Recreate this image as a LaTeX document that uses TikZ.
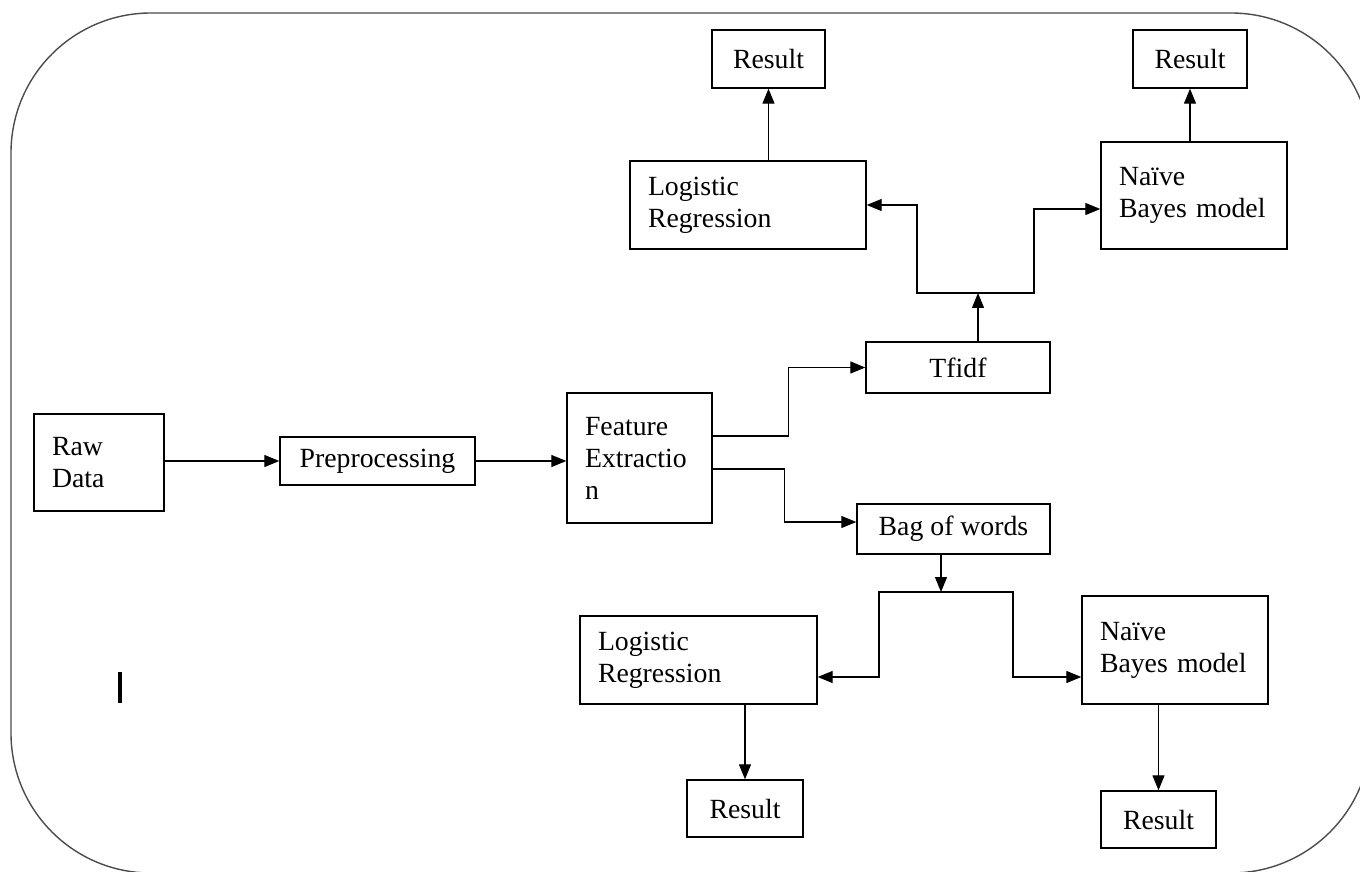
\documentclass[tikz,border=0pt]{standalone}
\usepackage{fontspec}
\setmainfont{Liberation Serif}
\usepackage{tikz}
\usetikzlibrary{arrows.meta,positioning,calc}
\tikzset{
  box/.style={rectangle, draw=black, line width=0.8pt, inner sep=0pt, align=center, font=\fontsize{15.8}{18.2}\selectfont},
  leftbox/.style={box, align=left, inner xsep=0.36cm},
  flow/.style={line width=0.7pt, -{Triangle[length=0.3cm, width=0.24cm]}},
  frame/.style={draw=black!70, line width=0.8pt, rounded corners=2.8cm},
}

\begin{document}
\begin{tikzpicture}[x=0.02cm, y=-0.02cm]
  \useasboundingbox (0,0) rectangle (1360,872);
  \clip (0,0) rectangle (1360,872);
  % outer frame
  \draw[frame] (11,13) rectangle (1371,873);
  % main chain
  \node[leftbox, text width=1.88cm, minimum height=1.94cm] (raw) at (99,462.5) {Raw\\Data};
  \node[box, minimum width=3.9cm, minimum height=0.96cm] (pre) at (377.5,461) {Preprocessing};
  \node[leftbox, text width=2.18cm, minimum height=2.6cm] (feat) at (639.5,458) {Feature\\Extractio\\n};
  \node[box, minimum width=3.68cm, minimum height=1.02cm] (tfidf) at (958,367.5) {Tfidf};
  \node[box, minimum width=3.86cm, minimum height=1.0cm] (bag) at (953.5,529) {Bag of words};
  % models (tfidf branch)
  \node[leftbox, text width=4.0cm, minimum height=1.76cm] (lr1) at (748,205) {Logistic\\Regression};
  \node[leftbox, text width=3.0cm, minimum height=2.14cm] (nb1) at (1194,195.5) {Naïve\\Bayes model};
  \node[box, minimum width=2.26cm, minimum height=1.16cm] (res1) at (768.5,59) {Result};
  \node[box, minimum width=2.28cm, minimum height=1.16cm] (res2) at (1190,59) {Result};
  % models (bag of words branch)
  \node[leftbox, text width=4.02cm, minimum height=1.76cm] (lr2) at (698.5,660) {Logistic\\Regression};
  \node[leftbox, text width=3.0cm, minimum height=2.16cm] (nb2) at (1175,650) {Naïve\\Bayes model};
  \node[box, minimum width=2.32cm, minimum height=1.14cm] (res3) at (745,808.5) {Result};
  \node[box, minimum width=2.3cm, minimum height=1.14cm] (res4) at (1158.5,819.5) {Result};
  % junctions
  \coordinate (tj) at (978,293);
  \coordinate (bj) at (941,592);
  % links
  \draw[flow] (raw.east |- pre.west) -- (pre.west);
  \draw[flow] (pre.east) -- (feat.west |- pre.east);
  \draw[flow] ([yshift=0.44cm]feat.east) -- ++(76,0) |- (tfidf.west);
  \draw[flow] ([yshift=-0.22cm]feat.east) -- ++(72,0) |- ([yshift=0.14cm]bag.west);
  \draw[flow] (tj |- tfidf.north) -- (tj);
  \draw[flow] (tj) -- ++(-61,0) |- (lr1.east);
  \draw[flow] (tj) -- ++(56,0) |- ([yshift=-0.27cm]nb1.west);
  \draw[flow] (bj |- bag.south) -- (bj);
  \draw[flow] (bj) -- ++(-62,0) |- ([yshift=-0.34cm]lr2.east);
  \draw[flow] (bj) -- ++(72,0) |- ([yshift=-0.54cm]nb2.west);
  \draw[flow] (res1.south |- lr1.north) -- (res1.south);
  \draw[flow] (res2.south |- nb1.north) -- (res2.south);
  \draw[flow] (res3.north |- lr2.south) -- (res3.north);
  \draw[flow] (res4.north |- nb2.south) -- (res4.north);
  % stray mark
  \draw[line width=1.8pt] (120,672) -- (120,703);
\end{tikzpicture}
\end{document}
